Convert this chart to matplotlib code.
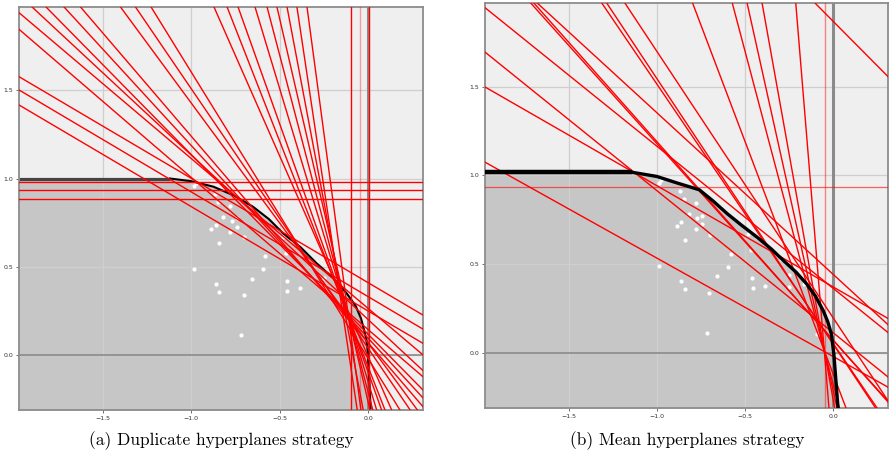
import numpy as np
import matplotlib
matplotlib.use("Agg")
import matplotlib.pyplot as plt

# axis range shared by both panels
xlim = (-1.974, 0.311)
ylim = (-0.309, 1.970)

# sample points (same in both panels)
pts_x = [-0.985, -0.975, -0.868, -0.846, -0.780, -0.820, -0.772, -0.860, -0.887,
         -0.742, -0.780, -0.840, -0.700, -0.480, -0.430, -0.463, -0.582, -0.985,
         -0.594, -0.657, -0.862, -0.842, -0.704, -0.459, -0.457, -0.385, -0.251,
         -0.251, -0.717, -0.296, -0.165, -0.094, -0.015, -0.741]
pts_y = [0.955, 0.975, 0.912, 0.868, 0.844, 0.781, 0.762, 0.740, 0.713,
         0.725, 0.699, 0.637, 0.667, 0.670, 0.652, 0.580, 0.560, 0.489,
         0.487, 0.431, 0.403, 0.358, 0.340, 0.420, 0.365, 0.380, 0.440,
         0.373, 0.115, 0.530, 0.390, 0.107, 0.110, 0.774]

# front curves
front_a_x = [-1.974, -1.12, -1.0, -0.875, -0.76, -0.65, -0.56, -0.48, -0.38, -0.29,
             -0.2, -0.12, -0.07, -0.04, -0.017, -0.005, 0.0, 0.008, 0.015]
front_a_y = [1.0, 1.0, 0.985, 0.954, 0.905, 0.84, 0.77, 0.69, 0.61, 0.52,
             0.44, 0.35, 0.28, 0.21, 0.124, 0.06, 0.0, -0.15, -0.31]
front_b_x = [-1.974, -1.143, -1.0, -0.881, -0.759, -0.68, -0.6, -0.52, -0.431, -0.35,
             -0.281, -0.21, -0.15, -0.1, -0.056, -0.03, -0.01, 0.004, 0.016, 0.028]
front_b_y = [1.018, 1.018, 0.994, 0.956, 0.919, 0.855, 0.784, 0.72, 0.652, 0.585,
             0.52, 0.455, 0.389, 0.32, 0.238, 0.175, 0.107, -0.006, -0.16, -0.314]

# hyperplanes (point, slope) - panel a
a_x0 = [-1.974, -1.974, -1.974, -1.974, -1.974,
        -1.900, -1.821, -1.719, -1.626, -1.400, -1.315, -1.227,
        -0.871, -0.797, -0.735, -0.639, -0.571, -0.515, -0.458, -0.402, -0.345]
a_y0 = [1.416, 1.501, 1.576, 1.844, 1.938] + [1.97] * 16
a_slope = [-0.59, -0.592, -0.59, -0.86, -0.847,
           -0.93, -1.016, -1.089, -1.167, -1.357, -1.467, -1.619,
           -2.268, -2.552, -2.807, -3.313, -3.811, -4.333, -5.288, -6.683, -7.47]
a_hlines = [0.982, 0.933, 0.882]
a_vlines = [-0.094, 0.0075]
a_vlines_light = [-0.045]

# hyperplanes (point, slope) - panel b
b_x0 = [-1.968, -1.968, -1.968, -1.968,
        -1.715, -1.697, -1.678, -1.312, -1.284, -1.181,
        -0.797, -0.572, -0.488, -0.403, -0.212, -0.103]
b_y0 = [1.939, 1.689, 1.494, 1.071] + [1.97] * 12
b_slope = [-0.8, -0.8, -0.57, -0.554,
           -1.106, -1.118, -0.91, -1.46, -1.495, -1.5,
           -2.62, -3.75, -4.47, -5.54, -12.1, -1.0]
b_hlines_light = [0.932]
b_vlines_light = [-0.045]

captions = ["(a) Duplicate hyperplanes strategy", "(b) Mean hyperplanes strategy"]


def draw_panel(ax, fx, fy, lx0, ly0, lslope, lw_front, top_col, front_z):
    ax.set_facecolor("#efefef")
    ax.fill_between(fx, ylim[0], fy, color="#c6c6c6", zorder=0.5, lw=0)
    ax.grid(True, color="#cfcfcf", lw=0.9, zorder=0.6)
    ax.set_axisbelow(True)
    ax.axhline(0, color="#8a8a8a", lw=1.2, zorder=1)
    ax.axvline(0, color="#8a8a8a", lw=2.2, zorder=1)
    ax.scatter(pts_x, pts_y, s=9, color="white", zorder=2, lw=0)
    for x0, y0, s in zip(lx0, ly0, lslope):
        ax.axline((x0, y0), slope=s, color="red", lw=1.0, zorder=3)
    ax.plot(fx[:2], fy[:2], color=top_col, lw=lw_front + 0.8, zorder=front_z,
            solid_capstyle="butt")
    ax.plot(fx[1:], fy[1:], color="black", lw=lw_front, zorder=front_z,
            solid_joinstyle="round")
    ax.set_xlim(*xlim)
    ax.set_ylim(*ylim)
    ax.set_xticks([-1.5, -1.0, -0.5, 0.0])
    ax.set_yticks([0.0, 0.5, 1.0, 1.5])
    ax.tick_params(labelsize=4.5, length=2, width=0.6, color="#555555",
                   labelcolor="#333333", pad=2)
    for sp in ax.spines.values():
        sp.set_color("#8c8c8c")
        sp.set_linewidth(1.3)


fig = plt.figure(figsize=(8.89, 4.57), dpi=100)
ax1 = fig.add_axes([19 / 889, 47 / 457, 404 / 889, 403 / 457])
ax2 = fig.add_axes([485 / 889, 49 / 457, 403 / 889, 405 / 457])

draw_panel(ax1, front_a_x, front_a_y, a_x0, a_y0, a_slope, 1.5, "#444444", 2.5)
for y in a_hlines:
    ax1.axhline(y, color="red", lw=1.0, zorder=3)
for x in a_vlines:
    ax1.axvline(x, color="red", lw=1.0, zorder=3)
for x in a_vlines_light:
    ax1.axvline(x, color="red", lw=1.0, alpha=0.35, zorder=3)

draw_panel(ax2, front_b_x, front_b_y, b_x0, b_y0, b_slope, 2.4, "black", 4)
for y in b_hlines_light:
    ax2.axhline(y, color="red", lw=0.9, alpha=0.6, zorder=3)
for x in b_vlines_light:
    ax2.axvline(x, color="red", lw=1.0, alpha=0.45, zorder=3)

fig.text(221 / 889, 1 - 441 / 457, captions[0], ha="center", va="center",
         fontsize=12.5, family="cmr10")
fig.text(687 / 889, 1 - 441 / 457, captions[1], ha="center", va="center",
         fontsize=12.5, family="cmr10")

fig.savefig("out.png", dpi=100)
